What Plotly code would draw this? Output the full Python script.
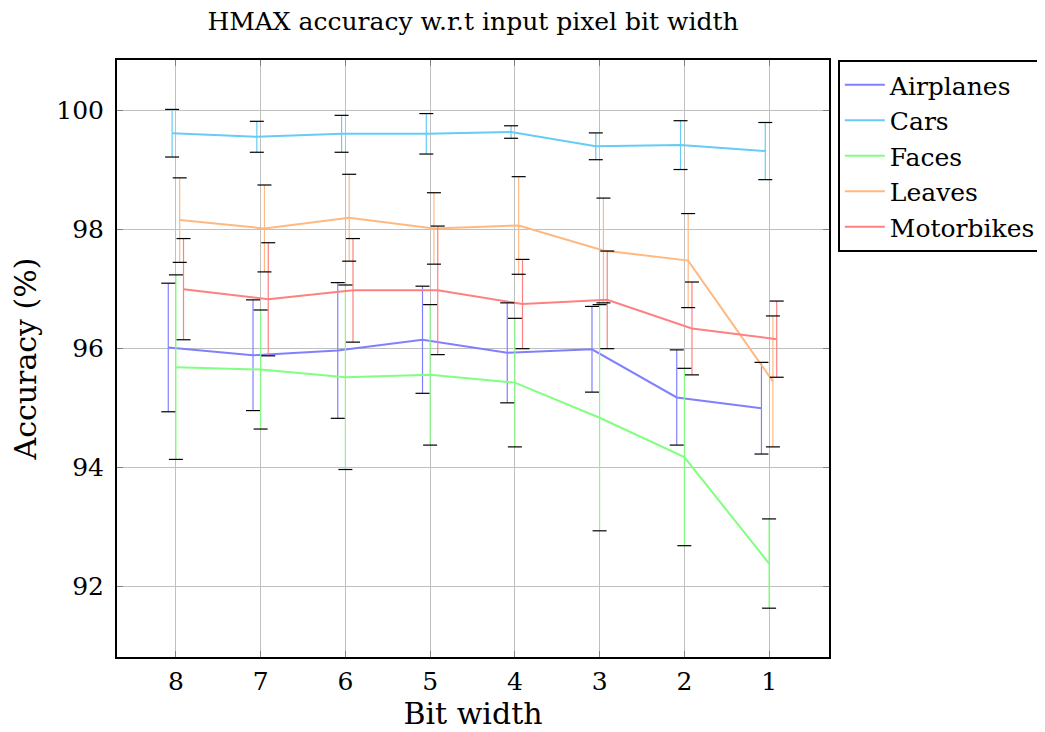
import plotly.graph_objects as go

bits = [8, 7, 6, 5, 4, 3, 2, 1]
series_names = ["Airplanes", "Cars", "Faces", "Leaves", "Motorbikes"]

airplanes_mean = [96.01, 95.88, 95.96, 96.14, 95.92, 95.98, 95.17, 94.99]
airplanes_err = [1.08, 0.93, 1.14, 0.90, 0.84, 0.72, 0.80, 0.77]
cars_mean = [99.61, 99.55, 99.60, 99.60, 99.63, 99.39, 99.41, 99.31]
cars_err = [0.40, 0.26, 0.31, 0.34, 0.105, 0.225, 0.41, 0.48]
faces_mean = [95.68, 95.64, 95.51, 95.55, 95.42, 94.83, 94.17, 92.38]
faces_err = [1.55, 1.00, 1.55, 1.18, 1.08, 1.90, 1.49, 0.75]
leaves_mean = [98.15, 98.01, 98.19, 98.01, 98.06, 97.64, 97.47, 95.44]
leaves_err = [0.71, 0.73, 0.73, 0.60, 0.82, 0.88, 0.79, 1.10]
motorbikes_mean = [96.99, 96.82, 96.97, 96.97, 96.74, 96.81, 96.33, 96.15]
motorbikes_err = [0.85, 0.95, 0.87, 1.08, 0.75, 0.82, 0.78, 0.64]

means = [airplanes_mean, cars_mean, faces_mean, leaves_mean, motorbikes_mean]
errs = [airplanes_err, cars_err, faces_err, leaves_err, motorbikes_err]

# styles
colors = ["#8080ff", "#66ccf5", "#80ff80", "#ffb980", "#ff8080"]
offsets = [0.09, 0.045, 0.0, -0.045, -0.09]  # reversed axis: positive = left
FONT = "DejaVu Serif"

fig = go.Figure()
for name, m, e, c, off in zip(series_names, means, errs, colors, offsets):
    xs = [b + off for b in bits]
    fig.add_trace(go.Scatter(
        x=xs, y=m, mode="lines", name=name,
        line=dict(color=c, width=2),
        error_y=dict(type="data", array=e, visible=True, color=c,
                     thickness=1.2, width=0),
        legendgroup=name,
    ))
for name, m, e, off in zip(series_names, means, errs, offsets):
    xs = [b + off for b in bits]
    fig.add_trace(go.Scatter(
        x=xs + xs,
        y=[v + d for v, d in zip(m, e)] + [v - d for v, d in zip(m, e)],
        mode="markers", showlegend=False, hoverinfo="skip",
        marker=dict(symbol="line-ew", size=10, color="black",
                    line=dict(color="black", width=1.2)),
    ))

fig.update_layout(
    width=1045, height=732,
    margin=dict(l=109, r=223, t=52, b=83),
    paper_bgcolor="white", plot_bgcolor="white",
    font=dict(family=FONT, size=25, color="black"),
    title=dict(text="HMAX accuracy w.r.t input pixel bit width",
               xref="paper", x=0.5, xanchor="center",
               y=0.982, yanchor="middle",
               font=dict(family=FONT, size=25, color="black")),
    legend=dict(x=1.011, y=1.0, xanchor="left", yanchor="top",
                bordercolor="black", borderwidth=2, bgcolor="white",
                tracegroupgap=0, traceorder="normal", itemwidth=40),
)
fig.update_xaxes(
    range=[8.695, 0.293], tickvals=bits, ticktext=[str(b) for b in bits],
    showgrid=True, gridcolor="#c0c0c0", gridwidth=1,
    showline=True, mirror="ticks", linecolor="black", linewidth=2,
    ticks="inside", ticklen=6, tickcolor="#808080", ticklabelstandoff=1,
    zeroline=False,
    title=dict(text="Bit width", standoff=2),
)
fig.update_yaxes(
    range=[90.81, 100.84], tickvals=[92, 94, 96, 98, 100],
    showgrid=True, gridcolor="#c0c0c0", gridwidth=1,
    showline=True, mirror="ticks", linecolor="black", linewidth=2,
    ticks="inside", ticklen=6, tickcolor="#808080", ticklabelstandoff=6,
    zeroline=False,
    title=dict(text="Accuracy (%)", standoff=16),
)
fig.write_html("out.html")
